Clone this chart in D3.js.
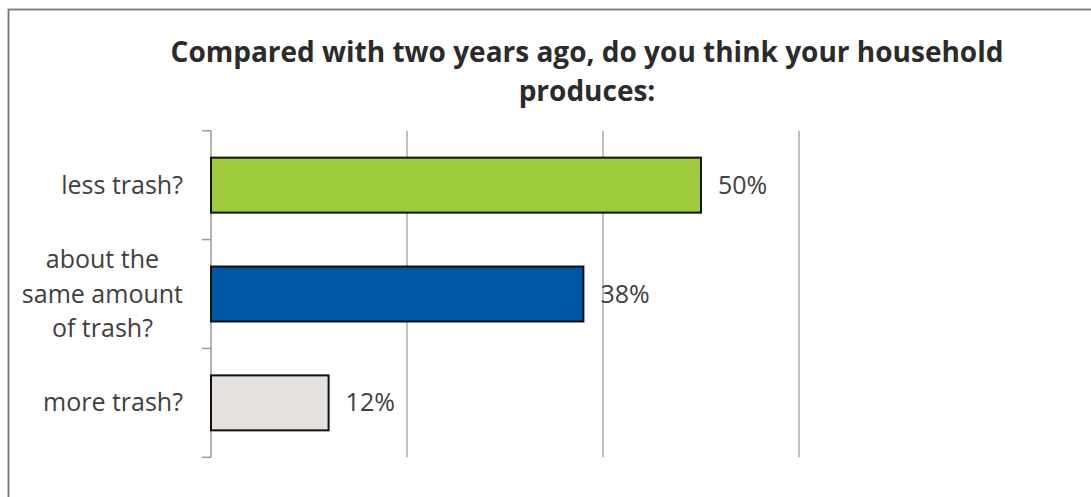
<!DOCTYPE html>
<html>
<head>
<meta charset="utf-8">
<script src="https://cdn.jsdelivr.net/npm/d3@7"></script>
<style>
  html, body { margin: 0; padding: 0; background: #ffffff; }
  svg { display: block; }
  text { font-family: "Open Sans", "Noto Sans", sans-serif; }
</style>
</head>
<body>
<svg id="chart" width="1091" height="497"></svg>
<script>
// Survey answers, top to bottom
const categories = ["less trash?", "about the same amount of trash?", "more trash?"];
const categoryLines = [["less trash?"], ["about the", "same amount", "of trash?"], ["more trash?"]];
const values = [50, 38, 12];              // percent of households
const barColors = ["#9ECB3C", "#0055A4", "#E4E1DE"];
const gridTicks = [20, 40, 60];           // vertical gridlines (percent)
const titleLines = ["Compared with two years ago, do you think your household", "produces:"];

const svg = d3.select("#chart");
const W = 1091, H = 497;

// Outer chart frame (runs past the right and bottom edges)
svg.append("rect")
  .attr("x", 8.5).attr("y", 9.5)
  .attr("width", W + 20).attr("height", H + 20)
  .attr("fill", "#ffffff")
  .attr("stroke", "#767676").attr("stroke-width", 1.8);

// Title
const title = svg.append("text")
  .attr("text-anchor", "middle")
  .attr("font-weight", 700)
  .attr("font-size", 28)
  .attr("fill", "#2b2b2b");
titleLines.forEach((t, i) => {
  title.append("tspan").attr("x", 587).attr("y", 62 + i * 38.5).text(t);
});

// Plot area
const plot = { left: 211, right: 799, top: 130.7, bottom: 457.3 };

const x = d3.scaleLinear().domain([0, 60]).range([plot.left, plot.right]);
const y = d3.scaleBand()
  .domain(categories)
  .range([plot.top, plot.bottom])
  .paddingInner(0.495)
  .paddingOuter(0.2475);

// Gridlines
svg.append("g").selectAll("line")
  .data(gridTicks)
  .join("line")
  .attr("x1", d => x(d)).attr("x2", d => x(d))
  .attr("y1", plot.top).attr("y2", plot.bottom)
  .attr("stroke", "#ABABAB").attr("stroke-width", 1.5);

// Category axis: line plus ticks at band boundaries
const step = y.step();
const boundaries = d3.range(categories.length + 1).map(i => plot.top + i * step);
const axisG = svg.append("g");
axisG.append("line")
  .attr("x1", plot.left).attr("x2", plot.left)
  .attr("y1", plot.top).attr("y2", plot.bottom)
  .attr("stroke", "#9A9A9A").attr("stroke-width", 1.5);
axisG.selectAll("line.tick")
  .data(boundaries)
  .join("line")
  .attr("class", "tick")
  .attr("x1", plot.left - 9).attr("x2", plot.left)
  .attr("y1", d => d).attr("y2", d => d)
  .attr("stroke", "#9A9A9A").attr("stroke-width", 1.5);

// Bars
svg.append("g").selectAll("rect")
  .data(categories)
  .join("rect")
  .attr("x", x(0))
  .attr("y", d => y(d))
  .attr("width", (d, i) => x(values[i]) - x(0))
  .attr("height", y.bandwidth())
  .attr("fill", (d, i) => barColors[i])
  .attr("stroke", "#111111").attr("stroke-width", 2);

// Value labels
svg.append("g").selectAll("text")
  .data(categories)
  .join("text")
  .attr("x", (d, i) => x(values[i]) + 17)
  .attr("y", d => y(d) + y.bandwidth() / 2 + 8.5)
  .attr("font-size", 25)
  .attr("fill", "#404040")
  .text((d, i) => values[i] + "%");

// Category labels: block right-aligned, lines centred within the block
const labelRight = 183, lineGap = 34.5;
categories.forEach((c, i) => {
  const lines = categoryLines[i];
  const cy = y(c) + y.bandwidth() / 2;
  const t = svg.append("text")
    .attr("font-size", 25)
    .attr("fill", "#404040")
    .attr("text-anchor", "middle");
  const spans = lines.map((l, j) =>
    t.append("tspan")
      .attr("y", cy + 8.5 + (j - (lines.length - 1) / 2) * lineGap)
      .text(l));
  const maxW = d3.max(spans, s => s.node().getComputedTextLength());
  spans.forEach(s => s.attr("x", labelRight - maxW / 2));
});
</script>
</body>
</html>
